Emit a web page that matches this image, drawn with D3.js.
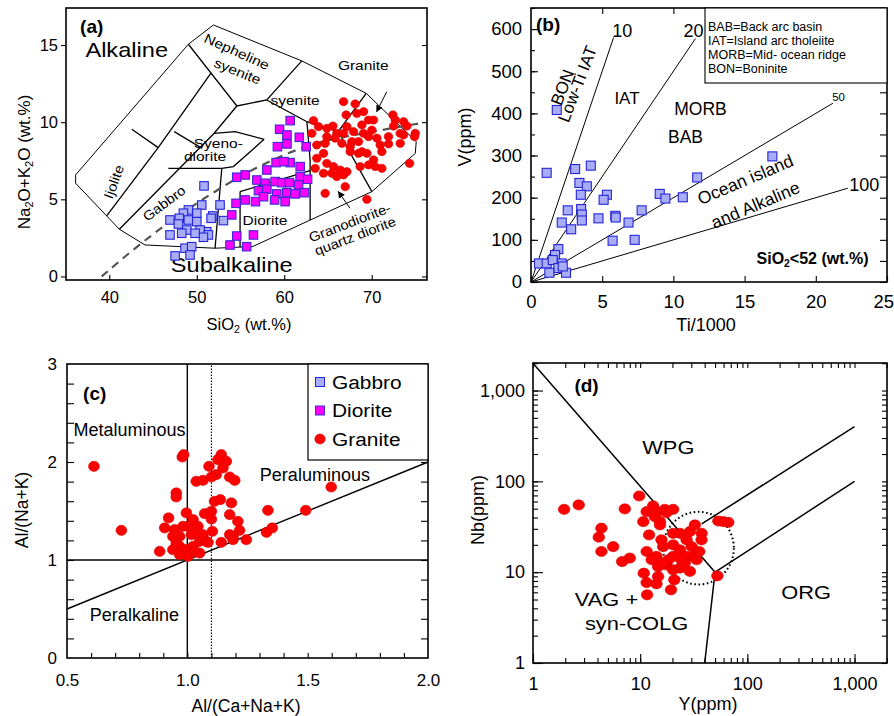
<!DOCTYPE html>
<html>
<head>
<meta charset="utf-8">
<script src="https://cdn.jsdelivr.net/npm/d3@7"></script>
<style>
  body { margin: 0; background: #fff; }
  svg { font-family: "Liberation Sans", Arial, sans-serif; }
</style>
</head>
<body>
<svg id="chart" width="894" height="716"></svg>
<script>
// ---------- data ----------
// (a) TAS: [SiO2, Na2O+K2O]
var tasGabbro = [[50.83,5.87],[52.66,4.63],[51.83,3.92],[53.05,3.62],[51.14,2.90],[50.57,4.63],[50.0,4.10],[49.04,4.31],
  [48.47,4.10],[48.0,3.77],[46.94,3.66],[46.94,2.69],[47.9,3.40],[49.04,3.66],[50.0,3.55],[50.38,3.01],[51.33,2.69],
  [50.76,2.54],[48.86,3.01],[48.66,1.83],[49.42,1.93],[47.52,1.33],[49.23,1.39],[51.64,3.77],[49.81,2.80],[48.28,2.80]];
var tasDiorite = [[60.68,10.10],[59.47,9.54],[60.31,9.17],[61.72,9.02],[60.31,8.59],[62.51,8.41],[59.22,8.41],[61.82,7.12],
  [60.68,7.38],[59.07,7.38],[59.97,7.44],[58.01,6.90],[56.87,6.25],[55.53,6.58],[54.57,6.43],[57.82,6.04],[58.96,6.15],
  [59.73,6.08],[60.6,6.08],[61.82,6.47],[61.64,5.93],[62.67,6.30],[57.05,5.56],[58.01,5.65],[59.15,5.35],[60.29,5.43],
  [61.24,5.35],[62.31,5.43],[60.1,4.85],[58.9,4.96],[56.71,4.85],[55.53,4.96],[54.49,4.74],[54.0,3.99],[54.57,2.62],
  [56.48,2.69],[53.8,2.04],[55.7,1.93],[57.63,5.17]];
var tasGranite = [[66.78,11.33],[68.11,11.18],[69.07,10.68],[67.08,10.47],[68.30,10.57],[72.42,10.47],[72.69,10.14],
  [73.64,10.03],[74.02,9.75],[72.50,9.75],[74.98,9.28],[74.90,9.06],[73.26,9.28],[73.26,8.63],[71.92,9.06],[63.34,10.10],
  [63.92,9.71],[63.15,9.28],[64.87,9.60],[65.56,9.75],[66.01,9.28],[64.87,9.06],[65.82,8.96],[66.78,9.28],[67.16,9.71],
  [67.92,9.39],[68.88,9.82],[69.64,10.14],[70.21,10.14],[70.02,9.49],[69.07,9.28],[67.73,8.74],[68.49,8.74],[67.54,8.41],
  [69.64,9.06],[70.59,8.96],[70.97,8.52],[71.16,8.09],[71.92,8.59],[73.64,9.17],[63.72,8.52],[64.49,7.98],[63.72,7.66],
  [64.87,7.33],[65.63,7.12],[66.40,6.90],[67.16,6.79],[65.44,6.69],[64.49,6.69],[66.01,6.47],[66.78,6.58],[63.53,7.01],
  [68.49,7.98],[69.45,7.98],[70.21,7.55],[68.68,7.12],[70.40,7.12],[71.16,7.01],[69.64,7.23],[74.33,7.33],[66.97,5.82],
  [64.68,5.39],[69.45,5.00],[64.68,8.63],[66.59,8.63],[68.88,8.09],[67.54,8.09]];
// (a) field boundaries (Cox et al. plutonic TAS as drawn)
var tasOutline = [[36.15,6.58],[49.04,15.05],[51.90,16.30],[62.01,13.97],[69.37,11.87],[75.09,8.74],[74.98,7.98],
  [70.02,5.50],[56.40,1.94],[52.09,1.83],[44.08,2.04],[41.15,3.06],[36.15,6.04],[36.15,6.58]];
var tasFieldLines = [
  [[42.57,9.54],[45.59,8.35]],
  [[45.59,8.35],[39.70,3.92]],
  [[45.59,8.35],[51.60,13.17]],
  [[49.04,15.05],[54.58,11.05],[58.0,11.44],[62.01,13.97]],
  [[47.42,9.39],[50.62,8.30]],
  [[41.15,3.06],[51.99,9.28],[54.58,11.05]],
  [[51.99,9.28],[54.38,9.39],[57.70,8.89]],
  [[46.75,7.01],[52.86,7.01],[54.19,7.12],[57.70,8.89]],
  [[52.86,7.01],[52.09,1.83]],
  [[54.95,5.50],[54.95,1.89]],
  [[54.95,5.50],[62.96,6.86]],
  [[58.0,11.44],[62.59,10.03],[66.17,9.39]],
  [[62.59,10.03],[62.96,7.55],[62.96,3.66]],
  [[69.37,11.87],[66.17,9.39],[70.02,5.50]]
];
var tasDivide = [[39.13,0.0],[44.66,2.69],[51.9,5.5],[57.24,7.23],[62.58,8.52],[66.74,9.06],[75.55,9.93]];
var tasArrows = [[[71.71,11.97],[70.57,10.68]], [[67.52,4.42],[66.18,5.50]]];
var tasXTicks = [40, 50, 60, 70];
var tasYTicks = [0, 5, 10, 15];

// (b) Ti/1000 vs V(ppm), gabbro
var tivGabbro = [[1.81,408],[1.1,259],[3.1,268],[4.2,276],[3.4,235],[3.92,227],[3.5,207],[5.33,207],[5.1,195],[2.58,170],
  [3.52,173],[3.57,160],[3.57,146],[2.16,141],[2.82,125],[4.74,151],[5.92,157],[5.95,153],[6.85,141],[7.77,170],[5.73,98],
  [7.28,100],[9.04,209],[9.44,198],[10.66,201],[11.67,248],[16.95,298],[0.56,44],[1.1,44],[1.92,78],[1.69,64],[1.53,52],
  [2.16,44],[1.92,33],[1.29,22],[2.46,22],[2.23,37]];
var tivRatios = [10, 20, 50, 100];
var tivRatioEnds = [5.8, 11.55, 21.2, 22.25];   // Ti/1000 where each ratio line stops
var tivXTicks = [0, 5, 10, 15, 20, 25];
var tivYTicks = [0, 100, 200, 300, 400, 500, 600];
var tivLegend = ["BAB=Back arc basin", "IAT=Island arc tholeiite", "MORB=Mid- ocean ridge", "BON=Boninite"];

// (c) A/CNK vs A/NK, granite
var alkGranite = [[0.612,1.956],[0.726,1.303],[0.885,1.088],[0.922,1.429],[0.906,1.327],[0.954,1.684],[0.954,1.643],
  [0.979,2.051],[0.985,2.075],[0.947,1.310],[0.968,1.241],[0.996,1.480],[1.003,1.344],[1.024,1.412],[1.044,1.344],
  [0.968,1.139],[0.996,1.105],[1.024,1.139],[1.051,1.190],[1.079,1.190],[0.954,1.173],[0.940,1.241],[1.017,1.259],
  [0.982,1.344],[1.065,1.259],[1.030,1.088],[1.051,1.071],[1.003,1.037],[0.968,1.054],[0.940,1.105],[1.086,1.180],
  [1.037,1.276],[1.090,1.956],[1.141,2.075],[1.162,2.007],[1.148,1.939],[1.120,1.871],[1.100,1.847],[1.176,1.847],
  [1.197,1.813],[1.037,1.803],[1.065,1.813],[1.127,2.024],[1.113,1.599],[1.137,1.616],[1.183,1.582],[1.072,1.473],
  [1.100,1.497],[1.100,1.418],[1.176,1.463],[1.210,1.395],[1.104,1.293],[1.217,1.303],[1.190,1.241],[1.176,1.259],
  [1.190,1.207],[1.141,1.180],[1.245,1.207],[1.335,1.507],[1.329,1.282],[1.353,1.327],[1.492,1.507],[1.598,1.745]];
var alkXTicks = [0.5, 1.0, 1.5, 2.0];
var alkYTicks = [0, 1, 2, 3];
var legendNames = ["Gabbro", "Diorite", "Granite"];

// (d) Y vs Nb (ppm), granite
var nbyGranite = [[1.95,49.2],[2.67,55.0],[7.19,49.7],[9.79,69.0],[13.2,53.6],[11.5,46.4],[14.2,46.4],[17.0,49.2],
  [20.3,49.2],[10.7,36.0],[15.3,36.0],[13.7,40.9],[4.35,30.5],[4.11,24.3],[4.35,16.9],[5.60,19.1],[6.79,13.1],[8.0,14.3],
  [12.1,25.7],[15.8,22.7],[11.5,16.9],[10.8,9.75],[11.5,7.69],[14.2,7.45],[11.6,5.63],[19.4,6.40],[20.8,8.24],[17.6,12.0],
  [14.2,14.9],[20.3,20.0],[20.3,14.9],[23.5,17.6],[27.1,14.9],[31.3,14.9],[26.1,12.6],[23.5,11.1],[29.1,10.2],[20.3,10.6],
  [18.3,13.7],[24.3,13.7],[30.2,19.1],[27.1,22.7],[29.1,28.0],[23.5,26.8],[32.4,33.1],[37.4,26.8],[37.4,22.7],[33.6,13.7],
  [35.6,16.9],[53.6,36.6],[66.4,35.4],[59.7,36.0],[52.5,9.12],[14.7,11.5],[16.4,12.6],[12.8,13.7],[16.4,19.1],[20.3,26.8],
  [17.6,45.3],[15.3,33.1],[14.7,8.96]];
var nbyLines = [[[1,2000],[50,10]], [[50,10],[40,1]], [[50,10],[1000,100]], [[37.5,34],[1000,400]]];
var nbyRing = {x: 35, y: 18.4, rx: 0.33, ry: 0.40};   // centre in ppm, radii in decades
var nbyTicks = [1, 10, 100, 1000];

// ---------- drawing ----------
var svg = d3.select("#chart");
var FONT = '"Liberation Sans", Arial, sans-serif';
var gabFill = "#a9adf7", gabStroke = "#2424d8";
var dioFill = "#ff00ff", dioStroke = "#3b2bd0";
var graFill = "#ff0000", graStroke = "#d40000";

function frame(g, x, y) {
  var xr = x.range(), yr = y.range();
  g.append("rect").attr("x", xr[0]).attr("y", yr[1])
    .attr("width", xr[1] - xr[0]).attr("height", yr[0] - yr[1])
    .attr("fill", "none").attr("stroke", "#000").attr("stroke-width", 1.6);
}

function axis(g, gen, tx, ty, size) {
  var a = g.append("g").attr("transform", "translate(" + tx + "," + ty + ")").call(gen);
  a.attr("font-family", FONT).attr("font-size", size);
  a.select(".domain").remove();
  a.selectAll("line").attr("stroke", "#000").attr("stroke-width", 1.1);
  a.selectAll("text").attr("fill", "#000");
  return a;
}

function label(g, px, py, s, o) {
  o = o || {};
  var tr = "translate(" + px + "," + py + ")";
  if (o.rot) tr += " rotate(" + o.rot + ")";
  if (o.sx) tr += " scale(" + o.sx + ",1)";
  return g.append("text").attr("transform", tr)
    .attr("text-anchor", o.anchor || "middle")
    .attr("dy", "0.35em")
    .style("font-size", (o.size || 16) + "px")
    .style("font-weight", o.bold ? "bold" : null)
    .text(s);
}

function subLabel(g, px, py, parts, o) {
  // parts: [[text, isSub], ...]
  o = o || {};
  var tr = "translate(" + px + "," + py + ")" + (o.rot ? " rotate(" + o.rot + ")" : "");
  var t = g.append("text").attr("transform", tr).attr("text-anchor", "middle")
    .attr("dy", "0.35em").style("font-size", o.size + "px")
    .style("font-weight", o.bold ? "bold" : null);
  parts.forEach(function(p) {
    var s = t.append("tspan").text(p[0]);
    if (p[1]) s.attr("baseline-shift", "-25%").style("font-size", (o.size * 0.65) + "px");
  });
  return t;
}

function squares(g, data, x, y, size, fill, stroke) {
  g.append("g").selectAll("rect").data(data).enter().append("rect")
    .attr("x", function(d) { return x(d[0]) - size / 2; })
    .attr("y", function(d) { return y(d[1]) - size / 2; })
    .attr("width", size).attr("height", size)
    .attr("fill", fill).attr("stroke", stroke).attr("stroke-width", 1.1);
}

function dots(g, data, x, y, rx, ry) {
  g.append("g").selectAll("ellipse").data(data).enter().append("ellipse")
    .attr("cx", function(d) { return x(d[0]); })
    .attr("cy", function(d) { return y(d[1]); })
    .attr("rx", rx).attr("ry", ry)
    .attr("fill", graFill).attr("stroke", graStroke).attr("stroke-width", 0.6);
}

svg.append("defs").append("marker")
  .attr("id", "head").attr("viewBox", "0 0 10 10").attr("refX", 9).attr("refY", 5)
  .attr("markerWidth", 7).attr("markerHeight", 7).attr("orient", "auto-start-reverse")
  .append("path").attr("d", "M0,0 L10,5 L0,10 z").attr("fill", "#000");

// ===== (a) TAS =====
(function() {
  var g = svg.append("g");
  var x = d3.scaleLinear().domain([35.05, 76.32]).range([66, 427]);
  var y = d3.scaleLinear().domain([-0.23, 17.4]).range([280, 8]);
  var line = d3.line().x(function(d) { return x(d[0]); }).y(function(d) { return y(d[1]); });

  g.append("path").attr("d", line(tasOutline)).attr("fill", "none").attr("stroke", "#000").attr("stroke-width", 1);
  tasFieldLines.forEach(function(l) {
    g.append("path").attr("d", line(l)).attr("fill", "none").attr("stroke", "#000").attr("stroke-width", 1.3);
  });
  g.append("path").attr("d", line.curve(d3.curveBasis)(tasDivide)).attr("fill", "none")
    .attr("stroke", "#555").attr("stroke-width", 2.2).attr("stroke-dasharray", "8,6");
  line.curve(d3.curveLinear);
  tasArrows.forEach(function(l) {
    g.append("path").attr("d", line(l)).attr("stroke", "#000").attr("stroke-width", 1)
      .attr("fill", "none").attr("marker-end", "url(#head)");
  });

  axis(g, d3.axisBottom(x).tickValues(tasXTicks).tickSizeInner(-5).tickSizeOuter(0).tickPadding(11), 0, 280, 16.5);
  axis(g, d3.axisLeft(y).tickValues(tasYTicks).tickSizeInner(5).tickSizeOuter(0).tickPadding(3), 66, 0, 16.5);
  axis(g, d3.axisRight(y).tickValues(tasYTicks).tickSizeInner(-5).tickSizeOuter(0).tickFormat(""), 427, 0, 16.5);
  frame(g, x, y);

  var lab = { size: 13.5, sx: 1.15 };
  label(g, x(37.99), y(16.19), "(a)", { size: 19, bold: true });
  label(g, x(41.99), y(14.68), "Alkaline", { size: 20, sx: 1.18 });
  label(g, x(54.0), y(0.75), "Subalkaline", { size: 20, sx: 1.18 });
  label(g, x(54.57), y(14.57), "Nepheline", { size: 13.5, sx: 1.15, rot: 24 });
  label(g, x(54.65), y(13.3), "syenite", { size: 13.5, sx: 1.15, rot: 22 });
  label(g, x(69.04), y(13.70), "Granite", lab);
  label(g, x(61.23), y(11.44), "syenite", lab);
  label(g, x(52.46), y(8.63), "Syeno-", lab);
  label(g, x(50.94), y(7.76), "diorite", lab);
  label(g, x(40.52), y(6.14), "Ijolite", { size: 13.5, sx: 1.1, rot: -70 });
  label(g, x(46.26), y(4.74), "Gabbro", { size: 13.5, sx: 1.1, rot: -37 });
  label(g, x(57.80), y(3.66), "Diorite", lab);
  label(g, x(67.5), y(3.49), "Granodiorite-", { size: 13.5, sx: 1.1, rot: -21 });
  label(g, x(68.1), y(2.62), "quartz diorite", { size: 13.5, sx: 1.1, rot: -21 });

  subLabel(g, 24, 162, [["Na", 0], ["2", 1], ["O+K", 0], ["2", 1], ["O (wt.%)", 0]], { size: 17, rot: -90 });
  subLabel(g, 249, 324, [["SiO", 0], ["2", 1], [" (wt.%)", 0]], { size: 16.5 });

  squares(g, tasGabbro, x, y, 8.5, gabFill, gabStroke);
  squares(g, tasDiorite, x, y, 8.5, dioFill, dioStroke);
  dots(g, tasGranite, x, y, 4.3, 4.1);
})();

// ===== (b) Ti-V =====
(function() {
  var g = svg.append("g");
  var x = d3.scaleLinear().domain([0, 25]).range([531, 887]);
  var y = d3.scaleLinear().domain([0, 650]).range([282, 8]);

  tivRatios.forEach(function(r, i) {
    var xe = tivRatioEnds[i];
    g.append("line").attr("x1", x(0)).attr("y1", y(0))
      .attr("x2", x(xe)).attr("y2", y(xe * 1000 / r))
      .attr("stroke", "#000").attr("stroke-width", 1);
  });

  var minorV = d3.range(0, 651, 50);
  var bx = axis(g, d3.axisBottom(x).tickValues(tivXTicks).tickSizeInner(-6).tickSizeOuter(0).tickPadding(13), 0, 282, 18.5);
  // last label sits on the page edge: right-align it so it stays inside
  bx.selectAll("text").filter(function(d) { return d === 25; })
    .attr("text-anchor", "end").attr("x", 6.5);
  axis(g, d3.axisTop(x).tickValues(tivXTicks.slice(1, 5)).tickSizeInner(-6).tickSizeOuter(0).tickFormat(""), 0, 8, 18);
  axis(g, d3.axisLeft(y).tickValues(tivYTicks).tickSizeInner(-7).tickSizeOuter(0).tickPadding(9), 531, 0, 18.5);
  axis(g, d3.axisLeft(y).tickValues(minorV).tickSizeInner(-4).tickSizeOuter(0).tickFormat(""), 531, 0, 18);
  axis(g, d3.axisRight(y).tickValues(minorV).tickSizeInner(-7).tickSizeOuter(0).tickFormat(""), 887, 0, 18);
  frame(g, x, y);

  // legend box
  g.append("rect").attr("x", 705).attr("y", 8).attr("width", 182).attr("height", 75)
    .attr("fill", "#fff").attr("stroke", "#000").attr("stroke-width", 1.1);
  tivLegend.forEach(function(s, i) {
    label(g, 708, 27 + i * 13.8, s, { size: 12.5, anchor: "start" });
  });

  label(g, x(1.2), y(612), "(b)", { size: 19, bold: true });
  label(g, x(6.41), y(595), "10", { size: 18 });
  label(g, x(11.41), y(595), "20", { size: 18 });
  label(g, x(21.6), y(440), "50", { size: 11.5 });
  label(g, x(23.4), y(231), "100", { size: 18 });
  label(g, x(2.2), y(462), "BON", { size: 17, rot: -69 });
  label(g, x(3.25), y(470), "Low-Ti IAT", { size: 17, rot: -69 });
  label(g, x(6.74), y(437), "IAT", { size: 17 });
  label(g, x(11.9), y(410), "MORB", { size: 17.5 });
  label(g, x(10.85), y(345), "BAB", { size: 17.5 });
  label(g, x(15.05), y(243), "Ocean island", { size: 17.5, rot: -23 });
  label(g, x(15.75), y(183), "and Alkaline", { size: 17.5, rot: -23 });
  subLabel(g, x(19.77), y(56), [["SiO", 0], ["2", 1], ["<52 (wt.%)", 0]], { size: 16, bold: true });

  label(g, 465, 137, "V(ppm)", { size: 18, rot: -90 });
  label(g, 706, 325, "Ti/1000", { size: 18 });

  squares(g, tivGabbro, x, y, 9, gabFill, gabStroke);
})();

// ===== (c) A/CNK - A/NK =====
(function() {
  var g = svg.append("g");
  var x = d3.scaleLinear().domain([0.5, 2.0]).range([67, 428]);
  var y = d3.scaleLinear().domain([0, 3]).range([658, 364]);

  g.append("line").attr("x1", x(0.5)).attr("x2", x(2.0)).attr("y1", y(1)).attr("y2", y(1))
    .attr("stroke", "#000").attr("stroke-width", 1.4);
  g.append("line").attr("x1", x(1)).attr("x2", x(1)).attr("y1", y(0)).attr("y2", y(3))
    .attr("stroke", "#000").attr("stroke-width", 1.4);
  g.append("line").attr("x1", x(1.1)).attr("x2", x(1.1)).attr("y1", y(0)).attr("y2", y(3))
    .attr("stroke", "#000").attr("stroke-width", 1.1).attr("stroke-dasharray", "1.5,1.5");
  g.append("line").attr("x1", x(0.5)).attr("x2", x(2.0)).attr("y1", y(0.5)).attr("y2", y(2.0))
    .attr("stroke", "#000").attr("stroke-width", 1.4);

  var minorX = d3.range(6, 20).map(function(i) { return i / 10; });
  var minorY = d3.range(1, 15).map(function(i) { return i / 5; });
  axis(g, d3.axisBottom(x).tickValues(alkXTicks).tickSizeInner(0).tickSizeOuter(0).tickPadding(16)
    .tickFormat(d3.format(".1f")), 0, 658, 17);
  axis(g, d3.axisBottom(x).tickValues(minorX).tickSizeInner(-5).tickSizeOuter(0).tickFormat(""), 0, 658, 17);
  axis(g, d3.axisLeft(y).tickValues(alkYTicks).tickSizeInner(0).tickSizeOuter(0).tickPadding(10)
    .tickFormat(d3.format("d")), 67, 0, 17);
  axis(g, d3.axisLeft(y).tickValues(minorY).tickSizeInner(-7).tickSizeOuter(0).tickFormat(""), 67, 0, 17);
  axis(g, d3.axisRight(y).tickValues(minorY).tickSizeInner(-7).tickSizeOuter(0).tickFormat(""), 428, 0, 17);
  frame(g, x, y);

  label(g, x(0.615), y(2.70), "(c)", { size: 19, bold: true });
  label(g, x(0.76), y(2.33), "Metaluminous", { size: 18 });
  label(g, x(1.53), y(1.87), "Peraluminous", { size: 18 });
  label(g, x(0.78), y(0.44), "Peralkaline", { size: 18 });
  label(g, 22, 510, "Al/(Na+K)", { size: 17.5, rot: -90 });
  label(g, 246, 706, "Al/(Ca+Na+K)", { size: 17.5 });

  dots(g, alkGranite, x, y, 5.4, 5.1);

  // legend
  var lg = g.append("g");
  lg.append("rect").attr("x", 308).attr("y", 364).attr("width", 120).attr("height", 96)
    .attr("fill", "#fff").attr("stroke", "#000").attr("stroke-width", 1.2);
  legendNames.forEach(function(n, i) {
    var cy = 382 + i * 28.5;
    if (i < 2) {
      lg.append("rect").attr("x", 315.5).attr("y", cy - 4.5).attr("width", 9).attr("height", 9)
        .attr("fill", i === 0 ? gabFill : dioFill).attr("stroke", i === 0 ? gabStroke : dioStroke);
    } else {
      lg.append("ellipse").attr("cx", 320).attr("cy", cy).attr("rx", 5.2).attr("ry", 5)
        .attr("fill", graFill).attr("stroke", graStroke).attr("stroke-width", 0.6);
    }
    label(lg, 332, cy, n, { size: 19, anchor: "start", sx: 1.1 });
  });
})();

// ===== (d) Y - Nb =====
(function() {
  var g = svg.append("g");
  var x = d3.scaleLog().domain([1, 2010]).range([533, 887]);
  var y = d3.scaleLog().domain([1, 2010]).range([663, 363]);
  var line = d3.line().x(function(d) { return x(d[0]); }).y(function(d) { return y(d[1]); });

  nbyLines.forEach(function(l) {
    g.append("path").attr("d", line(l)).attr("fill", "none").attr("stroke", "#000").attr("stroke-width", 1.5);
  });
  var cx = x(nbyRing.x), cy = y(nbyRing.y);
  g.append("ellipse").attr("cx", cx).attr("cy", cy)
    .attr("rx", x(nbyRing.x * Math.pow(10, nbyRing.rx)) - cx)
    .attr("ry", cy - y(nbyRing.y * Math.pow(10, nbyRing.ry)))
    .attr("fill", "none").attr("stroke", "#000").attr("stroke-width", 2).attr("stroke-dasharray", "1.6,2.6");

  var minor = [];
  [1, 10, 100, 1000].forEach(function(dec) {
    for (var m = 1; m < 10; m++) { if (dec * m <= 2010) minor.push(dec * m); }
  });
  var fmt = function(d) { return d === 1000 ? "1,000" : String(d); };
  axis(g, d3.axisBottom(x).tickValues(nbyTicks).tickSizeInner(-9).tickSizeOuter(0).tickPadding(14).tickFormat(fmt), 0, 663, 18);
  axis(g, d3.axisBottom(x).tickValues(minor).tickSizeInner(-5).tickSizeOuter(0).tickFormat(""), 0, 663, 18);
  axis(g, d3.axisTop(x).tickValues(minor).tickSizeInner(-5).tickSizeOuter(0).tickFormat(""), 0, 363, 18);
  axis(g, d3.axisLeft(y).tickValues(nbyTicks).tickSizeInner(-10).tickSizeOuter(0).tickPadding(8).tickFormat(fmt), 533, 0, 18);
  axis(g, d3.axisLeft(y).tickValues(minor).tickSizeInner(-5).tickSizeOuter(0).tickFormat(""), 533, 0, 18);
  axis(g, d3.axisRight(y).tickValues(minor).tickSizeInner(-5).tickSizeOuter(0).tickFormat(""), 887, 0, 18);
  frame(g, x, y);

  label(g, x(3.16), y(1143), "(d)", { size: 19, bold: true });
  label(g, x(18.3), y(236), "WPG", { size: 19, sx: 1.15 });
  label(g, x(354), y(5.93), "ORG", { size: 19, sx: 1.15 });
  label(g, x(4.85), y(4.96), "VAG +", { size: 19, sx: 1.15 });
  label(g, x(9.25), y(2.75), "syn-COLG", { size: 19, sx: 1.15 });
  label(g, 478, 510, "Nb(ppm)", { size: 18, rot: -90 });
  label(g, 708, 704, "Y(ppm)", { size: 18 });

  dots(g, nbyGranite, x, y, 5.8, 5.1);
})();
</script>
</body>
</html>
